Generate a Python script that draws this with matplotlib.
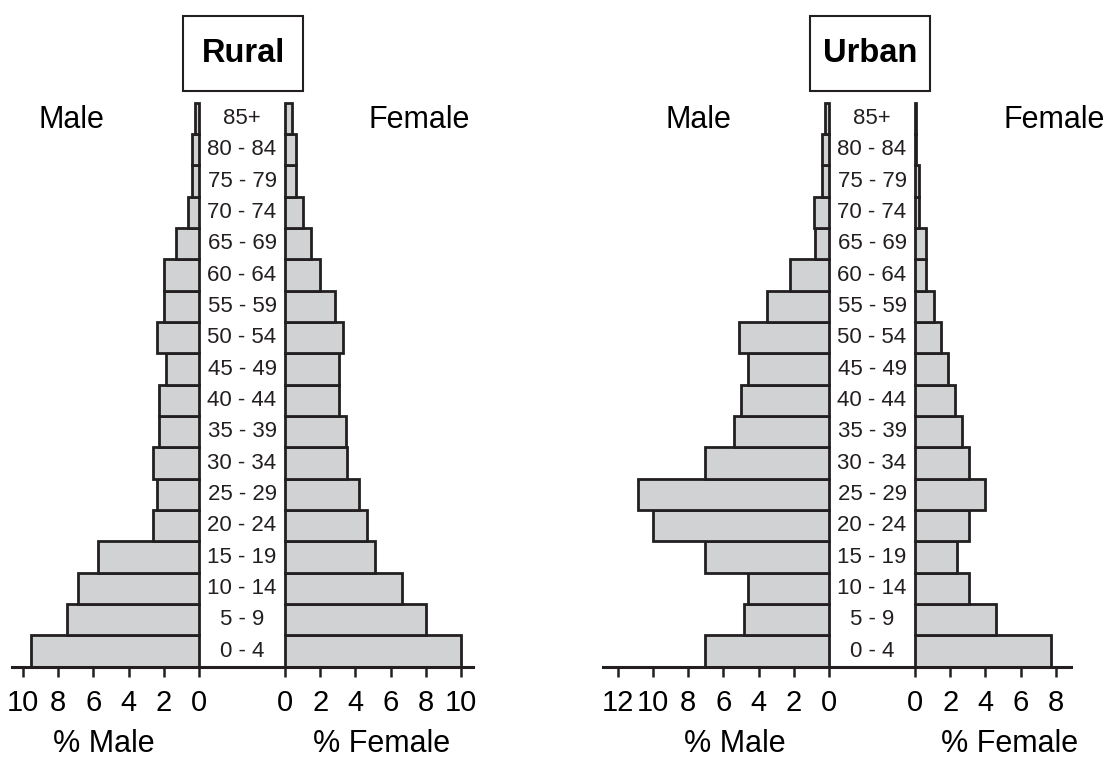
import matplotlib.pyplot as plt
from matplotlib.patches import Rectangle

plt.rcParams['font.family'] = ['Liberation Sans', 'DejaVu Sans']

ages = ["0 - 4", "5 - 9", "10 - 14", "15 - 19", "20 - 24", "25 - 29",
        "30 - 34", "35 - 39", "40 - 44", "45 - 49", "50 - 54", "55 - 59",
        "60 - 64", "65 - 69", "70 - 74", "75 - 79", "80 - 84", "85+"]

rural_male = [9.55, 7.5, 6.85, 5.75, 2.6, 2.4, 2.6, 2.3, 2.3, 1.9,
              2.4, 2.0, 2.0, 1.3, 0.6, 0.4, 0.4, 0.25]
rural_female = [10.0, 8.0, 6.65, 5.1, 4.65, 4.2, 3.5, 3.45, 3.05, 3.05,
                3.3, 2.85, 2.0, 1.5, 1.05, 0.6, 0.65, 0.4]
urban_male = [7.05, 4.85, 4.6, 7.05, 10.0, 10.85, 7.05, 5.4, 5.0, 4.6,
              5.1, 3.5, 2.2, 0.8, 0.85, 0.4, 0.4, 0.2]
urban_female = [7.75, 4.6, 3.05, 2.4, 3.05, 4.0, 3.05, 2.65, 2.25, 1.9,
                1.5, 1.1, 0.6, 0.6, 0.2, 0.2, 0.05, 0.05]

rural_male_ticks = [0, 2, 4, 6, 8, 10]
rural_female_ticks = [0, 2, 4, 6, 8, 10]
urban_male_ticks = [0, 2, 4, 6, 8, 10, 12]
urban_female_ticks = [0, 2, 4, 6, 8]

W, H = 1109, 760
PPU = 17.6            # pixels per percent
Y_BOT, Y_TOP = 666.7, 102.7
INK = '#231f20'
FILL = '#d1d2d4'


def fx(px):
    return px / W


def fy(py):
    return 1 - py / H


def style_axis(ax, ticks):
    ax.set_ylim(-0.5, len(ages) - 0.5)
    ax.set_xticks(ticks)
    ax.set_yticks([])
    for side in ("top", "left", "right"):
        ax.spines[side].set_visible(False)
    ax.spines["bottom"].set_linewidth(2.2)
    ax.spines["bottom"].set_color(INK)
    ax.tick_params(axis="x", direction="out", length=7, width=1.8,
                   color=INK, labelsize=21, labelcolor="black", pad=9)
    ax.patch.set_visible(False)


def pyramid(fig, title, box_cx, male, female, m_ticks, f_ticks,
            m_zero, f_zero, m_max, f_max, m_lab_x, f_lab_x, male_x, female_x):
    gap = (f_zero - m_zero) / PPU
    y = range(len(ages))

    # male side, spine runs through the gap to join the female side
    x0 = m_zero - m_max * PPU
    axm = fig.add_axes([fx(x0), fy(Y_BOT), fx(f_zero - x0), (Y_BOT - Y_TOP) / H])
    axm.barh(y, male, height=1.0, color=FILL, edgecolor=INK, linewidth=2.0,
             clip_on=False)
    axm.set_xlim(m_max, -gap)
    style_axis(axm, m_ticks)
    for i, a in enumerate(ages):
        axm.text(-gap / 2, i, a, ha="center", va="center", fontsize=16,
                 color=INK)

    axf = fig.add_axes([fx(f_zero), fy(Y_BOT), fx(f_max * PPU), (Y_BOT - Y_TOP) / H])
    axf.barh(y, female, height=1.0, color=FILL, edgecolor=INK, linewidth=2.0,
             clip_on=False)
    axf.set_xlim(0, f_max)
    style_axis(axf, f_ticks)

    # title box
    bw, bh = 120, 74.7
    fig.add_artist(Rectangle((fx(box_cx - bw / 2), fy(90.7)), fx(bw), bh / H,
                             transform=fig.transFigure, facecolor="white",
                             edgecolor=INK, linewidth=1.5))
    fig.text(fx(box_cx), fy(53.3), title, ha="center", va="center",
             fontsize=23.5, fontweight="bold")

    fig.text(fx(male_x), fy(119.5), "Male", ha="center", va="center", fontsize=22)
    fig.text(fx(female_x), fy(119.5), "Female", ha="center", va="center", fontsize=22)
    fig.text(fx(m_lab_x), fy(744), "% Male", ha="center", va="center", fontsize=22)
    fig.text(fx(f_lab_x), fy(744), "% Female", ha="center", va="center", fontsize=22)


fig = plt.figure(figsize=(W / 100, H / 100), dpi=100)

pyramid(fig, "Rural", 243, rural_male, rural_female,
        rural_male_ticks, rural_female_ticks,
        199, 285, 10.62, 10.66, 104, 381.7, 71.5, 419)
pyramid(fig, "Urban", 870.3, urban_male, urban_female,
        urban_male_ticks, urban_female_ticks,
        829, 915, 12.86, 8.86, 735, 1010, 698.8, 1054.3)

fig.savefig("out.png", dpi=100)
